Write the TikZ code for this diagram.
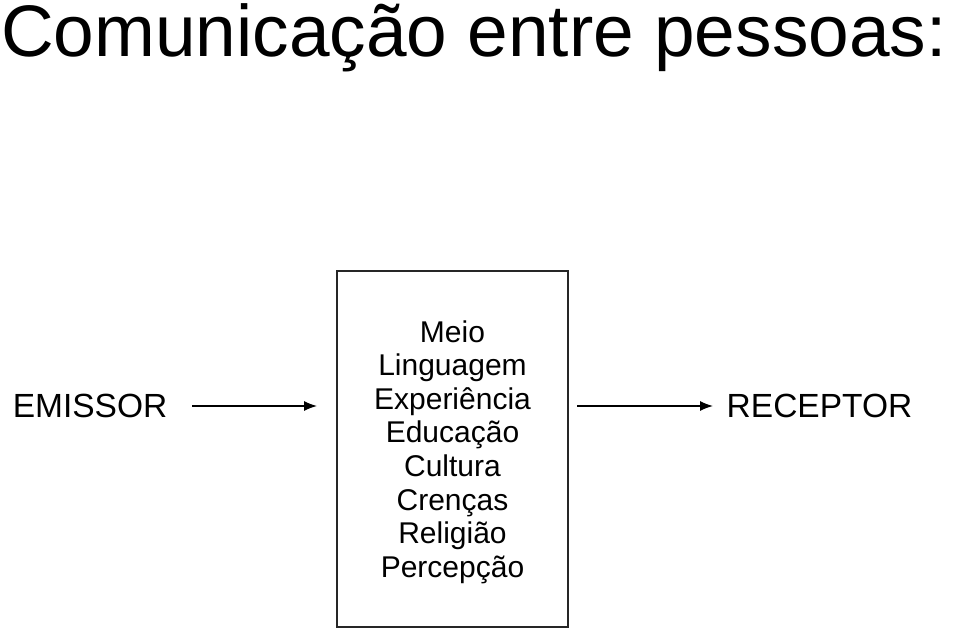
\documentclass[tikz,border=0pt]{standalone}
\usepackage{fontspec}
\setmainfont{Liberation Sans}
\usetikzlibrary{arrows.meta}
\begin{document}
\begin{tikzpicture}[x=1pt,y=1pt,
  lbl/.style={inner sep=0pt,anchor=base,font=\fontsize{33.5}{36}\selectfont},
  item/.style={inner sep=0pt,anchor=base,font=\fontsize{30}{34}\selectfont},
  flow/.style={line width=1.3pt,-{Latex[length=13pt,width=10pt]}},
  frame/.style={draw=black!85,line width=1.2pt,inner sep=0pt,minimum width=231pt,minimum height=356pt}]
\useasboundingbox (0,0) rectangle (960,630);
\node[inner sep=0pt,anchor=base west,font=\fontsize{73}{80}\selectfont] (title) at (1,573) {Comunicação entre pessoas:};
\node[frame] (box) at (452.5,181) {};
\node[lbl] (emissor) at (90,213) {EMISSOR};
\node[lbl] (receptor) at (819.5,213) {RECEPTOR};
\foreach \t [count=\i] in {Meio,Linguagem,Experiência,Educação,Cultura,Crenças,Religião,Percepção}{
  \node[item] (l\i) at (452.5,{288-(\i-1)*33.64}) {\t};
}
\coordinate (a1s) at (192,224);
\coordinate (a1e) at (317,224);
\coordinate (a2s) at (577,224);
\coordinate (a2e) at (713,224);
\draw[flow] (a1s) -- (a1e);
\draw[flow] (a2s) -- (a2e);
\end{tikzpicture}
\end{document}
